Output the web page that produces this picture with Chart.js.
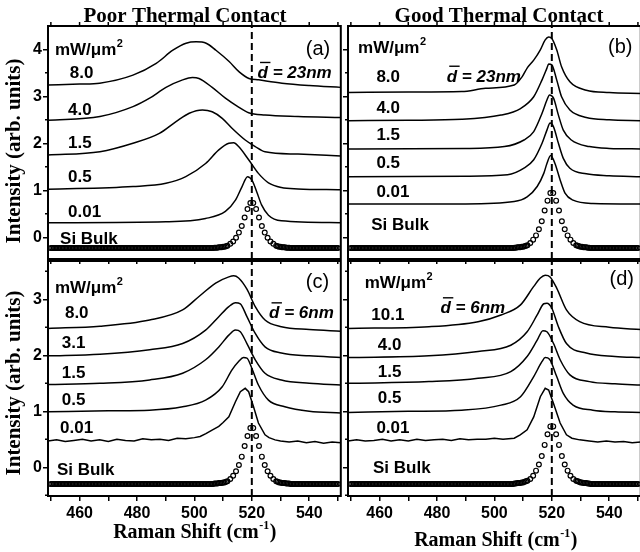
<!DOCTYPE html>
<html>
<head>
<meta charset="utf-8">
<script src="https://cdn.jsdelivr.net/npm/chart.js@4.4.1/dist/chart.umd.min.js"></script>
<style>
  html, body { margin: 0; padding: 0; width: 640px; height: 552px; overflow: hidden; background: #fff; }
  canvas { position: absolute; }
</style>
</head>
<body>
<canvas id="pa" width="346" height="270" style="left:0px;top:0px"></canvas>
<canvas id="pb" width="306" height="270" style="left:340px;top:0px"></canvas>
<canvas id="pc" width="346" height="307" style="left:0px;top:245px"></canvas>
<canvas id="pd" width="306" height="307" style="left:340px;top:245px"></canvas>
<script>
// ---- axes ----
const SHIFT_MIN = 449, SHIFT_MAX = 551;          // Raman shift range, cm^-1
const BULK_PEAK = 520;                            // bulk Si phonon line
const X_TICKS  = [450, 460, 470, 480, 490, 500, 510, 520, 530, 540, 550];
const X_LABELS = [460, 480, 500, 520, 540];
const Y_TICKS_TOP = [0, 1, 2, 3, 4];
const Y_MINOR_TOP = [0.5, 1.5, 2.5, 3.5];
const Y_TICKS_BOT = [0, 1, 2, 3];
const Y_MINOR_BOT = [-0.5, 0.5, 1.5, 2.5, 3.5];
const Y_RANGE_TOP = [-0.462, 4.496];
const Y_RANGE_BOT = [-0.5125, 3.684];

// ---- text ----
const TITLES = ['Poor Thermal Contact', 'Good Thermal Contact'];
const TAGS = ['(a)', '(b)', '(c)', '(d)'];
const DIAMETER = ['23nm', '23nm', '6nm', '6nm'];
const POWER_A = ['8.0', '4.0', '1.5', '0.5', '0.01'];
const POWER_B = ['8.0', '4.0', '1.5', '0.5', '0.01'];
const POWER_C = ['8.0', '3.1', '1.5', '0.5', '0.01'];
const POWER_D = ['10.1', '4.0', '1.5', '0.5', '0.01'];

// ---- (a) d = 23 nm, poor thermal contact ----
const SHIFT_A80 = [449, 460, 467, 478.6, 486.7, 492.5, 497.1, 500.6, 504.1, 507.5, 512.1, 515.6, 519, 522.4, 530.5, 540, 551];
const INT_A80   = [3.24, 3.26, 3.28, 3.45, 3.70, 3.98, 4.13, 4.16, 4.13, 3.98, 3.74, 3.52, 3.38, 3.35, 3.28, 3.23, 3.19];
const SHIFT_A40 = [449, 467.1, 478.6, 484.4, 490.1, 495.9, 499.3, 501.6, 506.2, 510.8, 515.4, 518.9, 524.6, 536.1, 551];
const INT_A40   = [2.49, 2.57, 2.78, 2.96, 3.19, 3.35, 3.40, 3.38, 3.19, 2.96, 2.77, 2.65, 2.60, 2.57, 2.55];
const SHIFT_A15 = [449, 467.1, 478.6, 487.8, 493.6, 498.2, 502.8, 506.2, 509.7, 513.1, 517.7, 521.2, 524.6, 536.1, 551];
const INT_A15   = [1.75, 1.82, 2.00, 2.21, 2.46, 2.64, 2.71, 2.67, 2.53, 2.32, 2.07, 1.93, 1.82, 1.77, 1.73];
const SHIFT_A05 = [449, 478.6, 490.1, 497.0, 503.9, 508.5, 512.0, 513.7, 515.4, 518.9, 522.3, 525.8, 530.3, 536.1, 551];
const INT_A05   = [1.02, 1.08, 1.15, 1.29, 1.57, 1.86, 2.00, 2.01, 1.93, 1.65, 1.36, 1.16, 1.06, 1.03, 1.01];
const SHIFT_A001 = [449, 490.1, 503.9, 510.8, 514.3, 516.6, 518.5, 520.0, 521.7, 523.4, 525.8, 530.3, 551];
const INT_A001   = [0.31, 0.33, 0.40, 0.55, 0.79, 1.08, 1.29, 1.22, 0.97, 0.69, 0.47, 0.35, 0.31];

// ---- (b) d = 23 nm, good thermal contact ----
const SHIFT_B80 = [449, 470, 488.6, 496.9, 506.9, 509.7, 511.4, 513.7, 516.0, 517.7, 518.9, 520.0, 521.7, 523.4, 526.3, 532.0, 540, 551];
const INT_B80   = [3.08, 3.09, 3.10, 3.17, 3.24, 3.42, 3.60, 3.77, 3.99, 4.20, 4.26, 4.23, 3.99, 3.63, 3.31, 3.13, 3.08, 3.06];
const SHIFT_B40 = [449, 470, 488.6, 502.3, 509.1, 513.7, 516.6, 518.3, 518.9, 520.0, 521.7, 523.4, 526.3, 532.0, 540, 551];
const INT_B40   = [2.48, 2.49, 2.51, 2.60, 2.74, 2.99, 3.35, 3.60, 3.69, 3.67, 3.35, 2.99, 2.71, 2.55, 2.50, 2.48];
const SHIFT_B15 = [449, 490, 503.5, 510.3, 513.7, 516.6, 518.3, 519.2, 520.6, 522.3, 524.0, 526.8, 533.1, 540, 551];
const INT_B15   = [1.88, 1.89, 1.93, 2.07, 2.25, 2.64, 2.92, 3.03, 2.96, 2.60, 2.28, 2.07, 1.93, 1.89, 1.88];
const SHIFT_B05 = [449, 490, 504.6, 510.3, 513.7, 516.6, 518.3, 519.4, 520.6, 522.3, 524.0, 526.3, 532.0, 540, 551];
const INT_B05   = [1.29, 1.30, 1.33, 1.47, 1.65, 2.00, 2.28, 2.43, 2.35, 2.00, 1.68, 1.47, 1.35, 1.31, 1.29];
const SHIFT_B001 = [449, 490, 506.9, 511.4, 514.9, 517.2, 518.3, 519.6, 521.1, 522.9, 524.6, 527.4, 534.3, 551];
const INT_B001   = [0.71, 0.71, 0.76, 0.86, 1.08, 1.36, 1.57, 1.74, 1.57, 1.22, 0.94, 0.79, 0.72, 0.71];

// ---- (c) d = 6 nm, poor thermal contact ----
const SHIFT_C80 = [449, 467.1, 484.4, 495.9, 501.6, 507.4, 512.0, 513.7, 515.4, 518.3, 521.2, 524.6, 530.3, 540, 551];
const INT_C80   = [2.48, 2.52, 2.63, 2.81, 3.05, 3.29, 3.40, 3.42, 3.38, 3.18, 2.87, 2.63, 2.51, 2.46, 2.43];
const SHIFT_C31 = [449, 467.1, 484.4, 495.9, 503.9, 508.5, 512.0, 514.3, 516.0, 518.3, 521.2, 524.6, 530.3, 540, 551];
const INT_C31   = [1.99, 2.02, 2.10, 2.21, 2.45, 2.69, 2.87, 2.94, 2.92, 2.69, 2.39, 2.15, 2.04, 1.99, 1.96];
const SHIFT_C15 = [449, 467.1, 484.4, 495.9, 503.9, 508.5, 512.0, 514.3, 516.0, 518.3, 521.2, 524.6, 530.3, 540, 551];
const INT_C15   = [1.48, 1.50, 1.56, 1.68, 1.92, 2.15, 2.36, 2.45, 2.42, 2.21, 1.92, 1.68, 1.56, 1.50, 1.47];
const SHIFT_C05 = [449, 470, 484.4, 495.9, 503.9, 509.7, 513.1, 515.4, 517.1, 518.3, 520.0, 522.3, 525.8, 531.5, 540, 551];
const INT_C05   = [0.99, 1.01, 1.02, 1.08, 1.20, 1.44, 1.74, 1.89, 1.96, 1.95, 1.77, 1.47, 1.20, 1.08, 1.00, 0.97];
const SHIFT_C001 = [449, 452, 455, 458, 461, 464, 467, 470, 473, 476, 479, 482, 485, 488, 491, 494, 497, 500, 502, 504,
                    506, 508.5, 510, 512, 514.3, 516, 517.7, 518.9, 520.6, 522.3, 524.6, 526, 528.1, 530, 533, 536, 539, 542, 545, 548, 551];
const INT_C001   = [0.47, 0.49, 0.46, 0.48, 0.50, 0.47, 0.49, 0.46, 0.50, 0.48, 0.47, 0.51, 0.49, 0.50, 0.48, 0.52, 0.51, 0.53, 0.55, 0.60,
                    0.66, 0.73, 0.80, 0.90, 1.17, 1.35, 1.41, 1.35, 1.08, 0.79, 0.58, 0.53, 0.49, 0.47, 0.45, 0.47, 0.44, 0.46, 0.43, 0.45, 0.44];

// ---- (d) d = 6 nm, good thermal contact ----
const SHIFT_D101 = [449, 477.2, 494.3, 502.3, 509.1, 513.7, 516.0, 517.7, 519.4, 521.7, 525.1, 529.7, 540, 551];
const INT_D101   = [2.48, 2.51, 2.60, 2.72, 2.90, 3.23, 3.38, 3.43, 3.40, 3.20, 2.81, 2.60, 2.50, 2.46];
const SHIFT_D40 = [449, 477.2, 494.3, 505.7, 511.4, 514.9, 517.2, 518.3, 520.0, 522.3, 525.1, 532.0, 542, 551];
const INT_D40   = [1.96, 1.99, 2.07, 2.18, 2.42, 2.72, 2.92, 2.93, 2.84, 2.51, 2.21, 2.04, 1.98, 1.96];
const SHIFT_D15 = [449, 477.2, 494.3, 505.7, 511.4, 514.9, 516.9, 518.3, 520.6, 522.9, 526.3, 533.1, 542, 551];
const INT_D15   = [1.50, 1.53, 1.59, 1.71, 1.98, 2.27, 2.44, 2.42, 2.21, 1.92, 1.65, 1.53, 1.49, 1.47];
const SHIFT_D05 = [449, 470, 488.6, 502.3, 509.1, 513.7, 516.6, 517.7, 519.2, 521.7, 524.0, 527.4, 534.3, 542, 551];
const INT_D05   = [0.98, 1.00, 1.02, 1.11, 1.26, 1.62, 1.89, 1.96, 1.93, 1.62, 1.32, 1.11, 1.02, 0.99, 0.98];
const SHIFT_D001 = [449, 452, 455, 458, 461, 464, 467, 470, 473, 476, 479, 482, 485, 488, 491, 494, 497, 500, 503, 506.9,
                    509, 511.4, 513.7, 516, 517.7, 518.9, 520.6, 522.9, 525.1, 527, 529.7, 533, 536, 539, 542, 545, 548, 551];
const INT_D001   = [0.47, 0.49, 0.47, 0.48, 0.50, 0.47, 0.49, 0.47, 0.50, 0.48, 0.49, 0.50, 0.48, 0.51, 0.49, 0.50, 0.50, 0.52, 0.50, 0.52,
                    0.58, 0.67, 0.90, 1.26, 1.41, 1.38, 1.14, 0.79, 0.58, 0.52, 0.49, 0.47, 0.45, 0.47, 0.45, 0.46, 0.44, 0.45];

// ---- bulk Si reference spectrum (open circles) ----
// 0.5 cm^-1 steps on the baseline, 1 cm^-1 steps across the phonon line
const SI_SHIFT = [
  450, 450.5, 451, 451.5, 452, 452.5, 453, 453.5, 454, 454.5,
  455, 455.5, 456, 456.5, 457, 457.5, 458, 458.5, 459, 459.5,
  460, 460.5, 461, 461.5, 462, 462.5, 463, 463.5, 464, 464.5,
  465, 465.5, 466, 466.5, 467, 467.5, 468, 468.5, 469, 469.5,
  470, 470.5, 471, 471.5, 472, 472.5, 473, 473.5, 474, 474.5,
  475, 475.5, 476, 476.5, 477, 477.5, 478, 478.5, 479, 479.5,
  480, 480.5, 481, 481.5, 482, 482.5, 483, 483.5, 484, 484.5,
  485, 485.5, 486, 486.5, 487, 487.5, 488, 488.5, 489, 489.5,
  490, 490.5, 491, 491.5, 492, 492.5, 493, 493.5, 494, 494.5,
  495, 495.5, 496, 496.5, 497, 497.5, 498, 498.5, 499, 499.5,
  500, 500.5, 501, 501.5, 502, 502.5, 503, 503.5, 504, 504.5,
  505, 505.5, 506, 506.5, 507, 507.5, 508, 508.5, 509, 509.5,
  510, 510.5, 511,
  511.5, 512.5, 513.5, 514.5, 515.5, 516.5, 517.5, 518.5, 519.5,
  520.5, 521.5, 522.5, 523.5, 524.5, 525.5, 526.5, 527.5, 528.5,
  529, 529.5, 530, 530.5, 531, 531.5, 532, 532.5, 533,
  533.5, 534, 534.5, 535, 535.5, 536, 536.5, 537, 537.5, 538,
  538.5, 539, 539.5, 540, 540.5, 541, 541.5, 542, 542.5, 543,
  543.5, 544, 544.5, 545, 545.5, 546, 546.5, 547, 547.5, 548,
  548.5, 549, 549.5, 550];
const SI_A = [
  -0.23, -0.23, -0.23, -0.23, -0.23, -0.23, -0.23, -0.23, -0.23, -0.23,
  -0.23, -0.23, -0.23, -0.23, -0.23, -0.23, -0.23, -0.23, -0.23, -0.23,
  -0.23, -0.23, -0.23, -0.23, -0.23, -0.23, -0.23, -0.23, -0.23, -0.23,
  -0.23, -0.23, -0.23, -0.23, -0.23, -0.23, -0.23, -0.23, -0.23, -0.23,
  -0.23, -0.23, -0.23, -0.23, -0.23, -0.23, -0.23, -0.23, -0.23, -0.23,
  -0.23, -0.23, -0.23, -0.23, -0.23, -0.23, -0.23, -0.23, -0.23, -0.23,
  -0.23, -0.23, -0.23, -0.23, -0.23, -0.23, -0.23, -0.23, -0.23, -0.23,
  -0.23, -0.23, -0.23, -0.23, -0.23, -0.23, -0.23, -0.23, -0.23, -0.23,
  -0.23, -0.23, -0.23, -0.23, -0.23, -0.23, -0.23, -0.23, -0.23, -0.23,
  -0.23, -0.23, -0.23, -0.23, -0.23, -0.23, -0.23, -0.23, -0.23, -0.23,
  -0.23, -0.23, -0.23, -0.23, -0.23, -0.23, -0.23, -0.23, -0.23, -0.23,
  -0.23, -0.23, -0.23, -0.23, -0.22, -0.22, -0.22, -0.21, -0.21, -0.21,
  -0.20, -0.20, -0.19,
  -0.18, -0.14, -0.09, -0.01, 0.10, 0.24, 0.42, 0.60, 0.73,
  0.73, 0.60, 0.42, 0.24, 0.10, -0.01, -0.09, -0.14, -0.18,
  -0.19, -0.20, -0.20, -0.21, -0.21, -0.21, -0.22, -0.22, -0.22,
  -0.23, -0.23, -0.23, -0.23, -0.23, -0.23, -0.23, -0.23, -0.23, -0.23,
  -0.23, -0.23, -0.23, -0.23, -0.23, -0.23, -0.23, -0.23, -0.23, -0.23,
  -0.23, -0.23, -0.23, -0.23, -0.23, -0.23, -0.23, -0.23, -0.23, -0.23,
  -0.23, -0.23, -0.23, -0.23];
const SI_B = [
  -0.23, -0.23, -0.23, -0.23, -0.23, -0.23, -0.23, -0.23, -0.23, -0.23,
  -0.23, -0.23, -0.23, -0.23, -0.23, -0.23, -0.23, -0.23, -0.23, -0.23,
  -0.23, -0.23, -0.23, -0.23, -0.23, -0.23, -0.23, -0.23, -0.23, -0.23,
  -0.23, -0.23, -0.23, -0.23, -0.23, -0.23, -0.23, -0.23, -0.23, -0.23,
  -0.23, -0.23, -0.23, -0.23, -0.23, -0.23, -0.23, -0.23, -0.23, -0.23,
  -0.23, -0.23, -0.23, -0.23, -0.23, -0.23, -0.23, -0.23, -0.23, -0.23,
  -0.23, -0.23, -0.23, -0.23, -0.23, -0.23, -0.23, -0.23, -0.23, -0.23,
  -0.23, -0.23, -0.23, -0.23, -0.23, -0.23, -0.23, -0.23, -0.23, -0.23,
  -0.23, -0.23, -0.23, -0.23, -0.23, -0.23, -0.23, -0.23, -0.23, -0.23,
  -0.23, -0.23, -0.23, -0.23, -0.23, -0.23, -0.23, -0.23, -0.23, -0.23,
  -0.23, -0.23, -0.23, -0.23, -0.23, -0.23, -0.23, -0.23, -0.23, -0.23,
  -0.23, -0.23, -0.23, -0.23, -0.22, -0.22, -0.21, -0.21, -0.21, -0.20,
  -0.20, -0.19, -0.18,
  -0.17, -0.12, -0.05, 0.04, 0.17, 0.34, 0.57, 0.78, 0.94,
  0.94, 0.78, 0.57, 0.34, 0.17, 0.04, -0.05, -0.12, -0.17,
  -0.18, -0.19, -0.20, -0.20, -0.21, -0.21, -0.21, -0.22, -0.22,
  -0.23, -0.23, -0.23, -0.23, -0.23, -0.23, -0.23, -0.23, -0.23, -0.23,
  -0.23, -0.23, -0.23, -0.23, -0.23, -0.23, -0.23, -0.23, -0.23, -0.23,
  -0.23, -0.23, -0.23, -0.23, -0.23, -0.23, -0.23, -0.23, -0.23, -0.23,
  -0.23, -0.23, -0.23, -0.23];
const SI_C = [
  -0.30, -0.30, -0.30, -0.30, -0.30, -0.30, -0.30, -0.30, -0.30, -0.30,
  -0.30, -0.30, -0.30, -0.30, -0.30, -0.30, -0.30, -0.30, -0.30, -0.30,
  -0.30, -0.30, -0.30, -0.30, -0.30, -0.30, -0.30, -0.30, -0.30, -0.30,
  -0.30, -0.30, -0.30, -0.30, -0.30, -0.30, -0.30, -0.30, -0.30, -0.30,
  -0.30, -0.30, -0.30, -0.30, -0.30, -0.30, -0.30, -0.30, -0.30, -0.30,
  -0.30, -0.30, -0.30, -0.30, -0.30, -0.30, -0.30, -0.30, -0.30, -0.30,
  -0.30, -0.30, -0.30, -0.30, -0.30, -0.30, -0.30, -0.30, -0.30, -0.30,
  -0.30, -0.30, -0.30, -0.30, -0.30, -0.30, -0.30, -0.30, -0.30, -0.30,
  -0.30, -0.30, -0.30, -0.30, -0.30, -0.30, -0.30, -0.30, -0.30, -0.30,
  -0.30, -0.30, -0.30, -0.30, -0.30, -0.30, -0.30, -0.30, -0.30, -0.30,
  -0.30, -0.30, -0.30, -0.30, -0.30, -0.30, -0.30, -0.30, -0.30, -0.30,
  -0.30, -0.30, -0.30, -0.30, -0.29, -0.29, -0.29, -0.28, -0.28, -0.28,
  -0.27, -0.27, -0.26,
  -0.25, -0.21, -0.15, -0.07, 0.04, 0.19, 0.38, 0.56, 0.70,
  0.70, 0.56, 0.38, 0.19, 0.04, -0.07, -0.15, -0.21, -0.25,
  -0.26, -0.27, -0.27, -0.28, -0.28, -0.28, -0.29, -0.29, -0.29,
  -0.30, -0.30, -0.30, -0.30, -0.30, -0.30, -0.30, -0.30, -0.30, -0.30,
  -0.30, -0.30, -0.30, -0.30, -0.30, -0.30, -0.30, -0.30, -0.30, -0.30,
  -0.30, -0.30, -0.30, -0.30, -0.30, -0.30, -0.30, -0.30, -0.30, -0.30,
  -0.30, -0.30, -0.30, -0.30];
const SI_D = [
  -0.30, -0.30, -0.30, -0.30, -0.30, -0.30, -0.30, -0.30, -0.30, -0.30,
  -0.30, -0.30, -0.30, -0.30, -0.30, -0.30, -0.30, -0.30, -0.30, -0.30,
  -0.30, -0.30, -0.30, -0.30, -0.30, -0.30, -0.30, -0.30, -0.30, -0.30,
  -0.30, -0.30, -0.30, -0.30, -0.30, -0.30, -0.30, -0.30, -0.30, -0.30,
  -0.30, -0.30, -0.30, -0.30, -0.30, -0.30, -0.30, -0.30, -0.30, -0.30,
  -0.30, -0.30, -0.30, -0.30, -0.30, -0.30, -0.30, -0.30, -0.30, -0.30,
  -0.30, -0.30, -0.30, -0.30, -0.30, -0.30, -0.30, -0.30, -0.30, -0.30,
  -0.30, -0.30, -0.30, -0.30, -0.30, -0.30, -0.30, -0.30, -0.30, -0.30,
  -0.30, -0.30, -0.30, -0.30, -0.30, -0.30, -0.30, -0.30, -0.30, -0.30,
  -0.30, -0.30, -0.30, -0.30, -0.30, -0.30, -0.30, -0.30, -0.30, -0.30,
  -0.30, -0.30, -0.30, -0.30, -0.30, -0.30, -0.30, -0.30, -0.30, -0.30,
  -0.30, -0.30, -0.30, -0.30, -0.29, -0.29, -0.28, -0.28, -0.28, -0.27,
  -0.27, -0.26, -0.25,
  -0.24, -0.21, -0.15, -0.06, 0.05, 0.20, 0.40, 0.59, 0.73,
  0.73, 0.59, 0.40, 0.20, 0.05, -0.06, -0.15, -0.21, -0.24,
  -0.25, -0.26, -0.27, -0.27, -0.28, -0.28, -0.28, -0.29, -0.29,
  -0.30, -0.30, -0.30, -0.30, -0.30, -0.30, -0.30, -0.30, -0.30, -0.30,
  -0.30, -0.30, -0.30, -0.30, -0.30, -0.30, -0.30, -0.30, -0.30, -0.30,
  -0.30, -0.30, -0.30, -0.30, -0.30, -0.30, -0.30, -0.30, -0.30, -0.30,
  -0.30, -0.30, -0.30, -0.30];

// ---- drawing ----
const SANS = '"Liberation Sans", Arial, sans-serif';
const SERIF = '"Liberation Serif", "Times New Roman", serif';
Chart.defaults.color = '#000';

// Per-panel annotation layout (data coordinates unless noted as canvas pixels)
const DECOR = {
  pa: { idx: 0, powers: POWER_A, yMinor: Y_MINOR_TOP, topTicks: true,
        unit: [451.4, 3.88], tag: [538.8, 3.87], size: [522.0, 3.39],
        powerX: [456.6, 456, 456, 456, 456], powerY: [3.39, 2.60, 1.90, 1.18, 0.43], bulk: [453.2, -0.15],
        title: [185, 22], yTitle: [15, 151] },
  pb: { idx: 1, powers: POWER_B, yMinor: Y_MINOR_TOP, topTicks: true,
        unit: [452.5, 3.92], tag: [539.6, 3.92], size: [483.4, 3.31],
        powerX: [458.9, 458.9, 458.9, 458.9, 458.9], powerY: [3.31, 2.64, 2.07, 1.47, 0.86], bulk: [457.1, 0.155],
        title: [159, 22] },
  pc: { idx: 2, powers: POWER_C, yMinor: Y_MINOR_BOT, topTicks: false,
        unit: [451.4, 3.11], tag: [538.8, 3.21], size: [526.0, 2.66],
        powerX: [454.9, 453.8, 453.8, 453.8, 453.2], powerY: [2.66, 2.125, 1.59, 1.11, 0.607], bulk: [452.1, -0.14],
        yTitle: [15, 138], xTitle: [195, 293] },
  pd: { idx: 3, powers: POWER_D, yMinor: Y_MINOR_BOT, topTicks: false,
        unit: [454.8, 3.20], tag: [540.1, 3.25], size: [481.2, 2.75],
        powerX: [457.1, 459.4, 459.4, 459.4, 458.9], powerY: [2.63, 2.095, 1.618, 1.143, 0.607], bulk: [457.7, -0.107],
        xTitle: [156, 301] }
};

function withSup(ctx, x, y, base, sup, font, supFont, rise, tail) {
  ctx.font = font;
  ctx.fillText(base, x, y);
  let w = ctx.measureText(base).width;
  ctx.font = supFont;
  ctx.fillText(sup, x + w + 0.5, y - rise);
  w += ctx.measureText(sup).width + 1;
  if (tail) { ctx.font = font; ctx.fillText(tail, x + w, y); }
}

function supWidth(ctx, base, sup, font, supFont, tail) {
  ctx.font = font;
  let w = ctx.measureText(base).width + (tail ? ctx.measureText(tail).width : 0);
  ctx.font = supFont;
  return w + ctx.measureText(sup).width + 1.5;
}

const decorPlugin = {
  id: 'panelDecor',
  afterDraw(chart) {
    const d = DECOR[chart.canvas.id];
    const { ctx, chartArea: a } = chart;
    const px = v => chart.scales.x.getPixelForValue(v);
    const py = v => chart.scales.y.getPixelForValue(v);
    ctx.save();
    ctx.strokeStyle = '#000';
    ctx.fillStyle = '#000';
    // frame
    ctx.lineWidth = 2;
    ctx.strokeRect(a.left, a.top, a.right - a.left, a.bottom - a.top);
    // minor ticks on the intensity axis, mirrored ticks on top
    ctx.lineWidth = 1.5;
    ctx.beginPath();
    d.yMinor.forEach(v => { const y = py(v); ctx.moveTo(a.left - 3, y); ctx.lineTo(a.left, y); });
    if (d.topTicks) X_TICKS.forEach(v => { const x = px(v); ctx.moveTo(x, a.top); ctx.lineTo(x, a.top - 4); });
    ctx.stroke();

    ctx.textAlign = 'left';
    ctx.textBaseline = 'alphabetic';
    // power density unit
    withSup(ctx, px(d.unit[0]), py(d.unit[1]), 'mW/\u03BCm', '2',
            'bold 17px ' + SANS, 'bold 11px ' + SANS, 8);
    // panel tag
    ctx.font = '20px ' + SANS;
    ctx.fillText(TAGS[d.idx], px(d.tag[0]), py(d.tag[1]));
    // mean diameter with overbar on d
    ctx.font = 'italic bold 17px ' + SANS;
    const sx = px(d.size[0]), sy = py(d.size[1]);
    ctx.fillText('d = ' + DIAMETER[d.idx], sx, sy);
    const dw = ctx.measureText('d').width;
    ctx.beginPath();
    ctx.lineWidth = 1.4;
    ctx.moveTo(sx + 2.5, sy - 15.5);
    ctx.lineTo(sx + dw + 2.5, sy - 15.5);
    ctx.stroke();
    // power densities and reference label
    ctx.font = 'bold 17px ' + SANS;
    d.powers.forEach((t, i) => ctx.fillText(t, px(d.powerX[i]), py(d.powerY[i])));
    ctx.fillText('Si Bulk', px(d.bulk[0]), py(d.bulk[1]));

    // column title (canvas pixels)
    ctx.textAlign = 'center';
    if (d.title) {
      ctx.font = 'bold 21px ' + SERIF;
      ctx.fillText(TITLES[d.idx], d.title[0], d.title[1]);
    }
    if (d.yTitle) {
      ctx.save();
      ctx.translate(d.yTitle[0], d.yTitle[1]);
      ctx.rotate(-Math.PI / 2);
      ctx.textBaseline = 'middle';
      ctx.font = 'bold 21px ' + SERIF;
      ctx.fillText('Intensity (arb. units)', 0, 0);
      ctx.restore();
    }
    if (d.xTitle) {
      ctx.textAlign = 'left';
      const f = 'bold 20px ' + SERIF, fs = 'bold 12px ' + SERIF;
      const w = supWidth(ctx, 'Raman Shift (cm', '-1', f, fs, ')');
      withSup(ctx, d.xTitle[0] - w / 2, d.xTitle[1], 'Raman Shift (cm', '-1', f, fs, 9, ')');
    }
    ctx.restore();
  }
};

function lineSet(xs, ys, noisy) {
  return {
    data: xs.map((x, i) => ({ x, y: ys[i] })),
    borderColor: '#000', borderWidth: 1.5, pointRadius: 0, fill: false,
    cubicInterpolationMode: noisy ? 'default' : 'monotone', tension: 0
  };
}

function buildPanel(p) {
  const datasets = p.lines.map(l => lineSet(l[0], l[1], l[2]));
  datasets.push({
    data: SI_SHIFT.map((x, i) => ({ x, y: p.si[i] })),
    showLine: false, pointStyle: 'circle', pointRadius: 2.4, pointBorderWidth: 1.2,
    pointBorderColor: '#000', pointBackgroundColor: 'rgba(0,0,0,0)'
  });
  datasets.push({
    data: [{ x: BULK_PEAK, y: p.yRange[0] }, { x: BULK_PEAK, y: p.yRange[1] }],
    borderColor: '#000', borderWidth: 2, borderDash: [7, 4], pointRadius: 0
  });
  const tickFont = { family: 'Liberation Sans', size: 16, weight: 'bold' };
  new Chart(document.getElementById(p.id), {
    type: 'line',
    data: { datasets },
    plugins: [decorPlugin],
    options: {
      responsive: false, animation: false, devicePixelRatio: 1,
      layout: { padding: p.pad },
      plugins: { legend: { display: false }, tooltip: { enabled: false } },
      scales: {
        x: {
          type: 'linear', min: SHIFT_MIN, max: SHIFT_MAX,
          afterBuildTicks: s => { s.ticks = X_TICKS.map(v => ({ value: v })); },
          afterFit: s => { s.height = p.xH; s.paddingLeft = 0; s.paddingRight = 0; },
          ticks: { display: p.xLabels, autoSkip: false, maxRotation: 0, padding: 3, color: '#000', font: tickFont,
                   callback: v => (X_LABELS.includes(v) ? String(v) : '') },
          grid: { drawOnChartArea: false, drawTicks: true, tickLength: 5, color: '#000', lineWidth: 1.5 },
          border: { display: false }
        },
        y: {
          type: 'linear', min: p.yRange[0], max: p.yRange[1],
          afterBuildTicks: s => { s.ticks = p.yTicks.map(v => ({ value: v })); },
          afterFit: s => { s.width = p.yW; s.paddingTop = 0; s.paddingBottom = 0; },
          ticks: { display: p.yLabels, padding: 1, color: '#000', font: tickFont, callback: v => String(v) },
          grid: { drawOnChartArea: false, drawTicks: true, tickLength: 5, color: '#000', lineWidth: 1.5 },
          border: { display: false }
        }
      }
    }
  });
}

buildPanel({
  id: 'pa', pad: { top: 26, left: 0, right: 4, bottom: 11 }, xH: 0, yW: 48, xLabels: false, yLabels: true,
  yRange: Y_RANGE_TOP, yTicks: Y_TICKS_TOP, si: SI_A,
  lines: [[SHIFT_A80, INT_A80], [SHIFT_A40, INT_A40], [SHIFT_A15, INT_A15], [SHIFT_A05, INT_A05], [SHIFT_A001, INT_A001]]
});
buildPanel({
  id: 'pb', pad: { top: 26, left: 0, right: 1, bottom: 11 }, xH: 0, yW: 8, xLabels: false, yLabels: false,
  yRange: Y_RANGE_TOP, yTicks: Y_TICKS_TOP, si: SI_B,
  lines: [[SHIFT_B80, INT_B80], [SHIFT_B40, INT_B40], [SHIFT_B15, INT_B15], [SHIFT_B05, INT_B05], [SHIFT_B001, INT_B001]]
});
buildPanel({
  id: 'pc', pad: { top: 16, left: 0, right: 4, bottom: 0 }, xH: 56, yW: 48, xLabels: true, yLabels: true,
  yRange: Y_RANGE_BOT, yTicks: Y_TICKS_BOT, si: SI_C,
  lines: [[SHIFT_C80, INT_C80], [SHIFT_C31, INT_C31], [SHIFT_C15, INT_C15], [SHIFT_C05, INT_C05], [SHIFT_C001, INT_C001, true]]
});
buildPanel({
  id: 'pd', pad: { top: 16, left: 0, right: 1, bottom: 0 }, xH: 56, yW: 8, xLabels: true, yLabels: false,
  yRange: Y_RANGE_BOT, yTicks: Y_TICKS_BOT, si: SI_D,
  lines: [[SHIFT_D101, INT_D101], [SHIFT_D40, INT_D40], [SHIFT_D15, INT_D15], [SHIFT_D05, INT_D05], [SHIFT_D001, INT_D001, true]]
});
</script>
</body>
</html>
